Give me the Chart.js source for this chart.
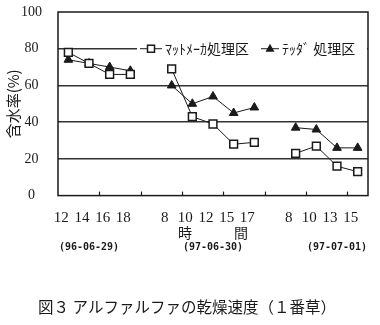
<!DOCTYPE html>
<html>
<head>
<meta charset="utf-8">
<script src="https://cdn.jsdelivr.net/npm/chart.js@4"></script>
<style>
  html, body { margin: 0; padding: 0; background: #fff; }
  #wrap { width: 380px; height: 325px; }
</style>
</head>
<body>
<div id="wrap"><canvas id="chartSecado" width="380" height="325"></canvas></div>
<script>
// horas de muestreo (huecos '' separan los días)
const horas = ['12', '14', '16', '18', '', '8', '10', '12', '15', '17', '', '8', '10', '13', '15'];
const fechas = ['', '(96-06-29)', '', '', '', '', '', '(97-06-30)', '', '', '', '', '', '(97-07-01)', ''];
const matLabel = 'ﾏｯﾄﾒｰｶ処理区';
const tedLabel = 'ﾃｯﾀﾞ 処理区';
const matValores = [78, 72, 66, 66, null, 69, 43, 39, 28, 29, null, 23, 27, 16, 13];
const tedValores = [74, 72, 70, 68, null, 60, 50, 54, 45, 48, null, 37, 36, 26, 26];
const yTicks = [0, 20, 40, 60, 80, 100];

const INK = '#1a1a1a';
const SERIF = '"Liberation Serif", "DejaVu Serif", serif';
const JP = '"Noto Sans CJK JP", "Noto Sans", sans-serif';

// marco del área + marcas interiores cada dos categorías
const marco = {
  id: 'marco',
  afterDatasetsDraw(chart) {
    const { ctx, chartArea: a } = chart;
    const x = chart.scales.x;
    ctx.save();
    ctx.strokeStyle = INK;
    ctx.lineWidth = 1.5;
    ctx.strokeRect(a.left, a.top, a.right - a.left, a.bottom - a.top);
    ctx.lineWidth = 1.2;
    const paso = x.getPixelForValue(1) - x.getPixelForValue(0);
    for (let i = 1; i < horas.length - 1; i += 2) {
      const px = Math.round(x.getPixelForValue(i) + paso / 2) + 0.5;
      ctx.beginPath();
      ctx.moveTo(px, a.bottom);
      ctx.lineTo(px, a.bottom - 4);
      ctx.stroke();
    }
    ctx.restore();
  }
};

// leyenda dentro del gráfico, sobre la línea de 80
const leyenda = {
  id: 'leyenda',
  afterDatasetsDraw(chart) {
    const { ctx, chartArea: a } = chart;
    const yc = chart.scales.y.getPixelForValue(80);
    ctx.save();
    ctx.fillStyle = '#fff';
    ctx.fillRect(a.left + 79, yc - 12, a.right - a.left - 80, 24);
    ctx.font = '14px ' + JP;
    ctx.textBaseline = 'middle';
    let x0 = a.left + 82;
    const largos = [22, 18];
    chart.data.datasets.forEach((ds, i) => {
      const L = largos[i];
      ctx.strokeStyle = INK;
      ctx.lineWidth = 1;
      ctx.beginPath();
      ctx.moveTo(x0, yc);
      ctx.lineTo(x0 + L, yc);
      ctx.stroke();
      const mx = x0 + L / 2;
      ctx.lineWidth = 1.5;
      if (ds.pointStyle === 'rect') {
        ctx.fillStyle = '#fff';
        ctx.fillRect(mx - 3.5, yc - 3.5, 7, 7);
        ctx.strokeRect(mx - 3.5, yc - 3.5, 7, 7);
      } else {
        ctx.fillStyle = INK;
        ctx.beginPath();
        ctx.moveTo(mx, yc - 5);
        ctx.lineTo(mx + 4.5, yc + 3);
        ctx.lineTo(mx - 4.5, yc + 3);
        ctx.closePath();
        ctx.fill();
      }
      ctx.fillStyle = INK;
      ctx.fillText(ds.label, x0 + L + 3, yc);
      x0 += L + 3 + ctx.measureText(ds.label).width + 12;
    });
    ctx.restore();
  }
};

new Chart(document.getElementById('chartSecado').getContext('2d'), {
  type: 'line',
  data: {
    labels: horas,
    datasets: [
      {
        label: matLabel, data: matValores,
        borderColor: INK, borderWidth: 1, backgroundColor: '#fff',
        pointStyle: 'rect', pointRadius: 5.5, pointBorderWidth: 1.5,
        pointBorderColor: INK, pointBackgroundColor: '#fff',
        spanGaps: false, tension: 0
      },
      {
        label: tedLabel, data: tedValores,
        borderColor: INK, borderWidth: 1, backgroundColor: INK,
        pointStyle: 'triangle', pointRadius: 5, pointBorderWidth: 1,
        pointBorderColor: INK, pointBackgroundColor: INK,
        spanGaps: false, tension: 0
      }
    ]
  },
  options: {
    responsive: false,
    animation: false,
    devicePixelRatio: 1,
    layout: { padding: { left: 4, right: 10, top: 12, bottom: 0 } },
    plugins: {
      legend: { display: false },
      tooltip: { enabled: false },
      title: {
        display: true,
        position: 'bottom',
        text: '図３ アルファルファの乾燥速度（１番草）',
        color: INK,
        font: { family: JP, size: 15.5, weight: 'normal', lineHeight: 1.2 },
        padding: { top: 42.4, bottom: 8.4 }
      }
    },
    scales: {
      x: {
        type: 'category',
        offset: true,
        grid: { display: false, drawTicks: false },
        border: { display: false },
        ticks: {
          autoSkip: false, maxRotation: 0, color: INK, padding: 14.5, labelOffset: -7,
          font: { family: SERIF, size: 15, lineHeight: 1 }
        },
        title: {
          display: true, text: '時　　　間', color: INK,
          font: { family: JP, size: 14, lineHeight: 1 },
          padding: { top: 0, bottom: 0 }
        },
        afterFit: (s) => { s.height = 44; }
      },
      x2: {
        type: 'category',
        position: 'bottom',
        labels: fechas,
        offset: true,
        grid: { display: false, drawTicks: false },
        border: { display: false },
        ticks: {
          autoSkip: false, maxRotation: 0, color: INK, padding: 2,
          font: { family: '"DejaVu Sans Mono", monospace', size: 10, weight: 'bold', lineHeight: 1.2 }
        }
      },
      y: {
        min: 0, max: 100,
        afterBuildTicks: (s) => { s.ticks = yTicks.map(v => ({ value: v })); },
        afterFit: (s) => { s.width = 54; s.paddingTop = 0; s.paddingBottom = 0; },
        grid: {
          color: (c) => (c.tick && (c.tick.value === 0 || c.tick.value === 100)) ? 'rgba(0,0,0,0)' : '#333',
          lineWidth: 1.5,
          drawTicks: false
        },
        border: { display: false },
        ticks: {
          color: INK, padding: 16, crossAlign: 'center',
          font: { family: SERIF, size: 14 }
        },
        title: {
          display: true, text: '含水率(%)', color: INK,
          font: { family: JP, size: 15, lineHeight: 1.2 },
          padding: { top: 0, bottom: 0 }
        }
      }
    }
  },
  plugins: [marco, leyenda]
});
</script>
</body>
</html>
